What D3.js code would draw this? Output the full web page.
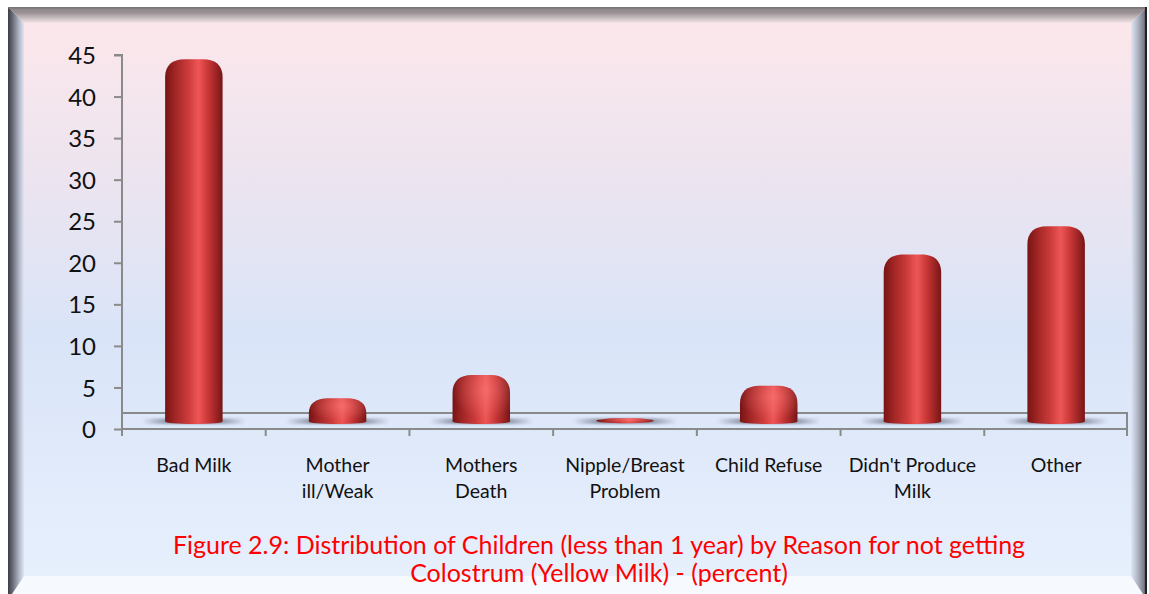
<!DOCTYPE html>
<html><head><meta charset="utf-8">
<script src="https://cdn.jsdelivr.net/npm/d3@7"></script>
<style>html,body{margin:0;padding:0;background:#fff}svg{display:block}</style>
</head><body>
<script>
const categories = [["Bad Milk"], ["Mother", "ill/Weak"], ["Mothers", "Death"], ["Nipple/Breast", "Problem"], ["Child Refuse"], ["Didn't Produce", "Milk"], ["Other"]];
const values = [43.6, 2.8, 5.6, 0.2, 4.3, 20.1, 23.5];
const yTicks = [0, 5, 10, 15, 20, 25, 30, 35, 40, 45];
const titleLines = ["Figure 2.9: Distribution of Children (less than 1 year) by Reason for not getting", "Colostrum (Yellow Milk) - (percent)"];

const W = 1149, H = 594;
const svg = d3.select("body").append("svg").attr("width", W).attr("height", H);
const defs = svg.append("defs");

const bg = defs.append("linearGradient").attr("id", "bg").attr("x1", 0).attr("y1", 0).attr("x2", 0).attr("y2", 1);
[[0, "#fde7ea"], [0.3, "#ebe4f0"], [0.55, "#d9e4f8"], [1, "#e8f1fd"]].forEach(s => bg.append("stop").attr("offset", s[0]).attr("stop-color", s[1]));

const barG = defs.append("linearGradient").attr("id", "barg").attr("x1", 0).attr("y1", 0).attr("x2", 1).attr("y2", 0);
[[0, "#761414"], [0.15, "#9c2323"], [0.4, "#cc3b3b"], [0.58, "#ee5656"], [0.75, "#c83636"], [0.92, "#922020"], [1, "#761515"]].forEach(s => barG.append("stop").attr("offset", s[0]).attr("stop-color", s[1]));

const capG = defs.append("radialGradient").attr("id", "capg").attr("cx", 0.58).attr("cy", 0.3).attr("r", 0.6);
[[0, "#ff8080", 0.55], [1, "#ff8080", 0]].forEach(s => capG.append("stop").attr("offset", s[0]).attr("stop-color", s[1]).attr("stop-opacity", s[2]));

const shG = defs.append("linearGradient").attr("id", "shg").attr("x1", 0).attr("y1", 0).attr("x2", 1).attr("y2", 0);
[[0, "#7f889a", 0], [0.25, "#7f889a", 0.85], [0.75, "#7f889a", 0.85], [1, "#7f889a", 0]].forEach(s => shG.append("stop").attr("offset", s[0]).attr("stop-color", s[1]).attr("stop-opacity", s[2]));
defs.append("filter").attr("id", "blur").attr("x", "-20%").attr("y", "-100%").attr("width", "140%").attr("height", "300%")
  .append("feGaussianBlur").attr("stdDeviation", 1.3);

// frame
svg.append("rect").attr("x", 8).attr("y", 7).attr("width", 1139).attr("height", 600).attr("fill", "url(#bg)");
const fx0 = 8, fy0 = 7, fx1 = 1147, fy1 = 600, bw = 16;
const topG = defs.append("linearGradient").attr("id", "ftop").attr("x1", 0).attr("y1", 0).attr("x2", 0).attr("y2", 1);
[[0, "#8a8486"], [0.35, "#9a9193"], [0.7, "#c9bfc2"], [1, "#f3e3e6"]].forEach(s => topG.append("stop").attr("offset", s[0]).attr("stop-color", s[1]));
const leftG = defs.append("linearGradient").attr("id", "fleft").attr("x1", 0).attr("y1", 0).attr("x2", 1).attr("y2", 0);
[[0, "#3c3c44"], [0.3, "#6b6d78"], [0.7, "#b3b8c8"], [1, "#dfe6f5"]].forEach(s => leftG.append("stop").attr("offset", s[0]).attr("stop-color", s[1]));
const rightG = defs.append("linearGradient").attr("id", "fright").attr("x1", 0).attr("y1", 0).attr("x2", 1).attr("y2", 0);
[[0, "#dfe6f5"], [0.4, "#b2b8c6"], [0.8, "#7b7f8a"], [1, "#2c2c30"]].forEach(s => rightG.append("stop").attr("offset", s[0]).attr("stop-color", s[1]));
svg.append("path").attr("d", `M${fx0},${fy0}L${fx1},${fy0}L${fx1-bw},${fy0+bw}L${fx0+bw},${fy0+bw}Z`).attr("fill", "url(#ftop)");
svg.append("path").attr("d", `M${fx0},${fy0}L${fx0+bw},${fy0+bw}L${fx0+bw},${fy1-bw}L${fx0},${fy1}Z`).attr("fill", "url(#fleft)");
svg.append("path").attr("d", `M${fx1},${fy0}L${fx1-bw},${fy0+bw}L${fx1-bw},${fy1-bw}L${fx1},${fy1}Z`).attr("fill", "url(#fright)");
svg.append("path").attr("d", `M${fx0+bw},576L${fx1-bw},576L${fx1},${fy1}L${fx0},${fy1}Z`).attr("fill", "#f6f9fe");
svg.append("rect").attr("x", fx0).attr("y", fy0).attr("width", fx1 - fx0).attr("height", 1.5).attr("fill", "#777");
svg.append("rect").attr("x", fx1 - 2).attr("y", fy0).attr("width", 2).attr("height", fy1).attr("fill", "#222");

// scales
const x = d3.scaleBand().domain(d3.range(categories.length)).range([122, 1128]).padding(0);
const y = d3.scaleLinear().domain([0, 45]).range([429, 55]);
const depth = 7.5;
const backOff = 16;

const axisCol = "#8a8a8a";
const floor = svg.append("g").attr("stroke", axisCol).attr("stroke-width", 2).attr("fill", "none");
floor.append("line").attr("x1", 122).attr("x2", 1128).attr("y1", y(0) - backOff).attr("y2", y(0) - backOff);
floor.append("line").attr("x1", 1127).attr("x2", 1127).attr("y1", y(0) - backOff).attr("y2", y(0));

svg.append("g").selectAll("rect").data(values).join("rect")
  .attr("x", (d, i) => x(i) + x.bandwidth() / 2 - 52)
  .attr("y", y(0) - depth - 3)
  .attr("width", 104).attr("height", 5.5).attr("rx", 2.5)
  .attr("fill", "url(#shg)").attr("filter", "url(#blur)");

const bwid = x.bandwidth() * 0.4;
function barPath(d, i) {
  const cx = x(i) + x.bandwidth() / 2;
  const x0 = cx - bwid / 2, x1 = cx + bwid / 2;
  const yb = y(0) - depth;
  const yt = y(d) - depth;
  const h = yb - yt;
  const eb = 2.5;
  if (h < 6) {
    const ry = Math.max(2.5, h / 2 + 1.5);
    const cy = yb - h / 2;
    return `M${x0},${cy}A${bwid / 2},${ry} 0 1 1 ${x1},${cy}A${bwid / 2},${ry} 0 1 1 ${x0},${cy}Z`;
  }
  const r = Math.min(18, h * 0.65);
  const rx = bwid * 0.34;
  return `M${x0},${yb}L${x0},${yt + r}C${x0},${yt + r * 0.35} ${x0 + rx * 0.35},${yt} ${x0 + rx},${yt}` +
    `L${x1 - rx},${yt}C${x1 - rx * 0.35},${yt} ${x1},${yt + r * 0.35} ${x1},${yt + r}` +
    `L${x1},${yb}A${bwid / 2},${eb} 0 0 1 ${x0},${yb}Z`;
}
const bars = svg.append("g");
bars.selectAll("path.bar").data(values).join("path").attr("class", "bar")
  .attr("d", barPath).attr("fill", "url(#barg)");
bars.selectAll("path.cap").data(values).join("path").attr("class", "cap")
  .attr("d", barPath).attr("fill", "url(#capg)")
  .attr("opacity", d => d > 10 ? 0 : 0.9);

const yAxis = svg.append("g").attr("transform", "translate(122,0)")
  .call(d3.axisLeft(y).tickValues(yTicks).tickSize(8).tickPadding(18).tickFormat(d3.format("d")));
yAxis.select(".domain").attr("stroke", axisCol).attr("stroke-width", 2).attr("d", `M-8,${y(45)}H0V${y(0) + 4}`);
yAxis.selectAll(".tick line").attr("stroke", axisCol).attr("stroke-width", 2);
yAxis.selectAll(".tick text").attr("fill", "#111").style("font-family", "Lato, sans-serif").style("font-size", "24px").attr("dy", "0.36em");

const xAxis = svg.append("g").attr("transform", `translate(0,${y(0)})`)
  .call(d3.axisBottom(x).tickSize(0).tickFormat(""));
xAxis.select(".domain").attr("stroke", axisCol).attr("stroke-width", 2).attr("d", "M122,0H1128");
xAxis.selectAll(".tick").remove();
xAxis.selectAll("line.sep").data(d3.range(categories.length + 1)).join("line").attr("class", "sep")
  .attr("x1", i => i < categories.length ? x(i) : x.range()[1] - 1)
  .attr("x2", i => i < categories.length ? x(i) : x.range()[1] - 1)
  .attr("y1", 0).attr("y2", 7).attr("stroke", axisCol).attr("stroke-width", 2);

const labels = svg.append("g").style("font-family", "Lato, sans-serif").style("font-size", "19.5px").attr("fill", "#111").attr("text-anchor", "middle");
categories.forEach((lines, i) => {
  const t = labels.append("text").attr("x", x(i) + x.bandwidth() / 2).attr("y", 472);
  lines.forEach((l, k) => t.append("tspan").attr("x", x(i) + x.bandwidth() / 2).attr("dy", k ? 26 : 0).text(l));
});

const title = svg.append("text").attr("text-anchor", "middle").attr("fill", "#ff0000")
  .style("font-family", "Lato, sans-serif").style("font-size", "25px");
titleLines.forEach((l, k) => title.append("tspan").attr("x", 599).attr("y", 554 + k * 28).text(l));
</script>
</body></html>
